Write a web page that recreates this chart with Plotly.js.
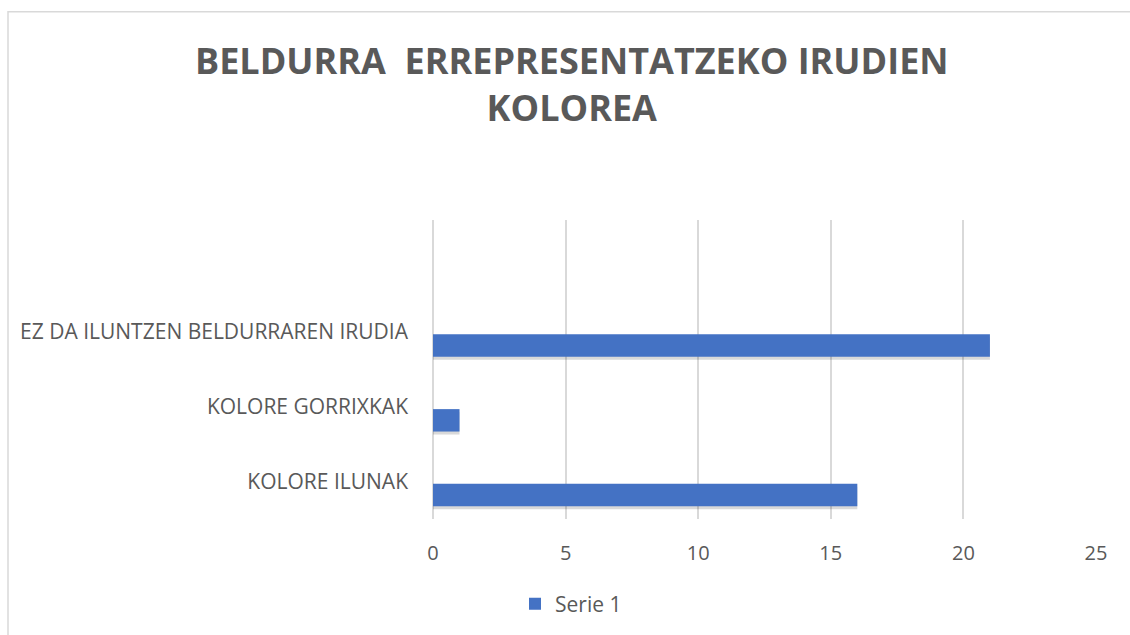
<!DOCTYPE html>
<html>
<head>
<meta charset="utf-8">
<script src="https://cdn.plot.ly/plotly-3.0.1.min.js"></script>
<style>
html,body{margin:0;padding:0;background:#fff;}
#chart{width:1130px;height:635px;}
</style>
</head>
<body>
<div id="chart"></div>
<script>
const categories = ["KOLORE ILUNAK", "KOLORE GORRIXKAK", "EZ DA ILUNTZEN BELDURRAREN IRUDIA"];
const serie1 = [16, 1, 21];
const seriesName = "Serie 1";
const xTicks = [0, 5, 10, 15, 20, 25];
const titleText = "BELDURRA  ERREPRESENTATZEKO IRUDIEN<br>KOLOREA";

const fontFam = "'Open Sans', sans-serif";
const grey = "#595959";

const shadow = {
  type: "bar", orientation: "h",
  y: categories, x: serie1,
  offset: -0.37, width: 0.30,
  marker: {color: "rgba(0,0,0,0.15)"},
  showlegend: false, hoverinfo: "skip"
};
const main = {
  type: "bar", orientation: "h",
  y: categories, x: serie1,
  name: seriesName,
  offset: -0.33, width: 0.30,
  marker: {color: "#4472C4", line: {width: 0}}
};

const layout = {
  width: 1130, height: 635,
  paper_bgcolor: "#fff", plot_bgcolor: "#fff",
  margin: {l: 433, r: 34, t: 220, b: 115},
  barmode: "overlay",
  title: {
    text: titleText,
    x: 0.506, xanchor: "center", xref: "container",
    y: 1 - 74/635, yanchor: "top", yref: "container",
    font: {family: fontFam, size: 36, color: grey, weight: "bold"}
  },
  xaxis: {
    range: [0, 25], tickvals: xTicks, ticktext: xTicks.map(String),
    showgrid: true, gridcolor: "#d9d9d9", gridwidth: 2,
    zeroline: true, zerolinecolor: "#d9d9d9", zerolinewidth: 2,
    showline: false, ticks: "", ticklabelstandoff: 20,
    tickfont: {family: fontFam, size: 20, color: grey},
    fixedrange: true
  },
  yaxis: {
    type: "category", categoryorder: "array", categoryarray: categories,
    range: [-0.5, 3.5],
    showgrid: false, zeroline: false, showline: false, ticks: "",
    ticklabelstandoff: 24,
    tickfont: {family: fontFam, size: 21, color: grey},
    fixedrange: true
  },
  legend: {
    orientation: "h", x: (571 - 433) / 663, xanchor: "center",
    y: (520 - 604) / 300, yanchor: "middle",
    font: {family: fontFam, size: 21, color: grey},
    itemwidth: 30
  },
  shapes: [{
    type: "rect", xref: "paper", yref: "paper",
    x0: (8 - 433) / 663, x1: (1132 - 433) / 663,
    y0: (520 - 640) / 300, y1: (520 - 11) / 300,
    line: {color: "#d9d9d9", width: 1.5}, fillcolor: "rgba(0,0,0,0)", layer: "below"
  }],
  showlegend: true
};

Plotly.newPlot("chart", [shadow, main], layout, {displayModeBar: false, staticPlot: true});
</script>
</body>
</html>
